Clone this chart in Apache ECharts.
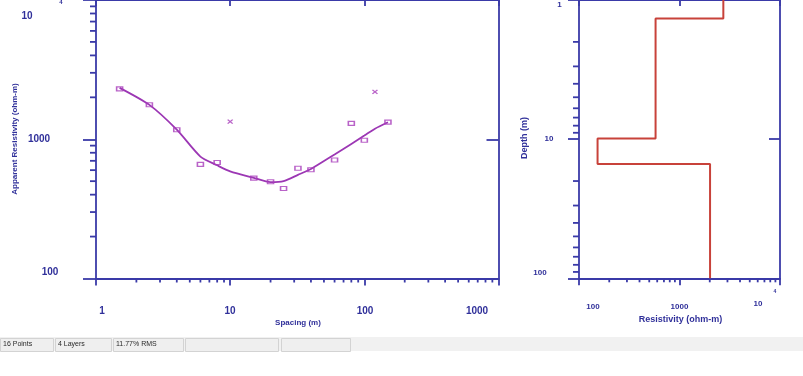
<!DOCTYPE html>
<html>
<head>
<meta charset="utf-8">
<script src="https://cdn.jsdelivr.net/npm/echarts@6/dist/echarts.min.js"></script>
<style>
  html, body { margin: 0; padding: 0; background: #ffffff; }
  #chart { width: 803px; height: 376px; }
</style>
</head>
<body>
<div id="chart"></div>
<script>
// Sounding curve: electrode spacing (m) and apparent resistivity (ohm-m)
const spacing      = [1.5, 2.5, 4, 6, 8, 10, 15, 20, 25, 32, 40, 60, 80, 100, 120, 150];
const observedRho  = [2300, 1770, 1170, 660, 680, 1340, 526, 495, 443, 619, 603, 709, 1300, 984, 2190, 1328];
const maskedPoint  = [0, 0, 0, 0, 0, 1, 0, 0, 0, 0, 0, 0, 0, 0, 1, 0];
const calculatedRho = [2340, 1765, 1172, 751, 650, 588, 528, 492, 500, 555, 612, 778, 926, 1062, 1191, 1325];

// Layered model: resistivity of each layer and depth of each interface
const layerRes   = [2730, 578, 153, 2014];
const layerDepth = [1.36, 9.9, 15.1];

// Tick labels
const spacingTicks   = ['1', '10', '100', '1000'];
const appResTicks    = ['100', '1000', '10'];
const depthTicks     = ['1', '10', '100'];
const resistTicks    = ['100', '1000', '10'];
const exponentLabel  = '4';

// Status bar fields
const statusFields = ['16 Points', '4 Layers', '11.77% RMS', '', ''];

// Minor tick positions on the log axes
const minorSpacing = [2,3,4,5,6,7,8,9, 20,30,40,50,60,70,80,90, 200,300,400,500,600,700,800,900];
const minorAppRes  = [200,300,400,500,600,700,800,900, 2000,3000,4000,5000,6000,7000,8000,9000];
const minorDepth   = [2,3,4,5,6,7,8,9, 20,30,40,50,60,70,80,90];
const minorResist  = [200,300,400,500,600,700,800,900, 2000,3000,4000,5000,6000,7000,8000,9000];

const AXIS = '#3a3aa8';
const TEXT = '#30309a';
const CURVE = '#9c37b4';
const MARK = '#a83cba';
const MODEL = '#c8423a';

// Build the stepped model profile from layers and interfaces
const modelPts = [];
let layerTop = 1;
layerRes.forEach((r, i) => {
  const layerBottom = i < layerDepth.length ? layerDepth[i] : 100;
  modelPts.push([r, layerTop], [r, layerBottom]);
  layerTop = layerBottom;
});

function minorTickSeries(xIdx, yIdx, data, dir, len) {
  return {
    type: 'custom',
    xAxisIndex: xIdx,
    yAxisIndex: yIdx,
    silent: true,
    clip: false,
    data: data,
    renderItem: function (params, api) {
      const p = api.coord([api.value(0), api.value(1)]);
      const shape = dir === 'down'
        ? { x1: p[0], y1: p[1], x2: p[0], y2: p[1] + len }
        : { x1: p[0] - len, y1: p[1], x2: p[0], y2: p[1] };
      return { type: 'line', shape: shape, style: { stroke: AXIS, lineWidth: 1.8 } };
    }
  };
}

function logAxis(grid, min, max, pos, tick, extra) {
  return Object.assign({
    type: 'log', logBase: 10, gridIndex: grid, min: min, max: max, position: pos,
    axisLine: { show: true, onZero: false, lineStyle: { color: AXIS, width: 1.8 } },
    axisTick: Object.assign({ show: true, lineStyle: { color: AXIS, width: 1.8 } }, tick),
    axisLabel: { show: false },
    splitLine: { show: false },
    minorTick: { show: false }
  }, extra || {});
}

function label(text, x, y, size, opts) {
  return Object.assign({
    type: 'text', x: x, y: y, silent: true,
    style: {
      text: text, fill: TEXT,
      font: 'bold ' + size + 'px "Liberation Sans", Arial, sans-serif',
      align: 'center', verticalAlign: 'middle',
      textAlign: 'center', textVerticalAlign: 'middle'
    }
  }, opts || {});
}

const graphics = [
  // left chart: vertical axis labels
  label('10', 27, 16, 10), label(exponentLabel, 61, 2, 6),
  label(appResTicks[1], 39, 139, 10), label(appResTicks[0], 50, 272, 10),
  // left chart: horizontal axis labels
  label(spacingTicks[0], 102, 311, 10), label(spacingTicks[1], 230, 311, 10),
  label(spacingTicks[2], 365, 311, 10), label(spacingTicks[3], 477, 311, 10),
  label('Spacing (m)', 298, 323, 8),
  label('Apparent Resistivity (ohm-m)', 15, 139, 8, { rotation: Math.PI / 2 }),
  // right chart labels
  label(depthTicks[0], 559.5, 5, 8), label(depthTicks[1], 549, 139, 8), label(depthTicks[2], 540, 273, 8),
  label(resistTicks[0], 593, 306.5, 8), label(resistTicks[1], 679.5, 306.5, 8),
  label(resistTicks[2], 758, 304, 8), label(exponentLabel, 775, 291.5, 5),
  label('Resistivity (ohm-m)', 680.5, 320, 9),
  label('Depth (m)', 525, 138, 9, { rotation: Math.PI / 2 }),
  // status bar
  { type: 'rect', shape: { x: 0, y: 337, width: 803, height: 14 }, style: { fill: '#f1f1f1' }, silent: true }
];

const panelEdges = [[0, 53], [55, 111], [113, 183], [185, 278], [281, 350]];
panelEdges.forEach((e, i) => {
  graphics.push({
    type: 'rect', silent: true,
    shape: { x: e[0] + 0.5, y: 338.5, width: e[1] - e[0], height: 13 },
    style: { fill: '#efefef', stroke: '#d3d3d3', lineWidth: 1 }
  });
  if (statusFields[i]) {
    graphics.push({
      type: 'text', x: e[0] + 3, y: 344.5, silent: true,
      style: {
        text: statusFields[i], fill: '#2a2a2a',
        font: '7px "Liberation Sans", Arial, sans-serif',
        align: 'left', verticalAlign: 'middle', textAlign: 'left', textVerticalAlign: 'middle'
      }
    });
  }
});

const chart = echarts.init(document.getElementById('chart'), null, { renderer: 'canvas' });

chart.setOption({
  animation: false,
  backgroundColor: '#ffffff',
  grid: [
    { left: 96, top: -3, width: 402.5, height: 281.5, containLabel: false },
    { left: 579, top: -2.9, width: 201, height: 281.2, containLabel: false }
  ],
  xAxis: [
    logAxis(0, 1, 1000, 'bottom', { length: 7 }),
    logAxis(0, 1, 1000, 'top', { inside: true, length: 6 }),
    logAxis(1, 100, 10000, 'bottom', { length: 7 }),
    logAxis(1, 100, 10000, 'top', { inside: true, length: 6 })
  ],
  yAxis: [
    logAxis(0, 100, 10000, 'left', { length: 13 }),
    logAxis(0, 100, 10000, 'right', { inside: true, length: 12 }),
    logAxis(1, 1, 100, 'left', { length: 11 }, { inverse: true }),
    logAxis(1, 1, 100, 'right', { inside: true, length: 11 }, { inverse: true })
  ],
  graphic: graphics,
  series: [
    {
      name: 'Calculated', type: 'line', xAxisIndex: 0, yAxisIndex: 0,
      data: spacing.map((s, i) => [s, calculatedRho[i]]),
      showSymbol: false, symbol: 'none', smooth: 0.25,
      lineStyle: { color: CURVE, width: 1.8 }, z: 3
    },
    {
      name: 'Observed', type: 'scatter', xAxisIndex: 0, yAxisIndex: 0,
      data: spacing.map((s, i) => [s, observedRho[i]]).filter((d, i) => !maskedPoint[i]),
      symbol: 'rect', symbolSize: [6, 4],
      itemStyle: { color: 'rgba(255,255,255,0)', borderColor: MARK, borderWidth: 1.3 }, z: 4
    },
    {
      name: 'Masked', type: 'scatter', xAxisIndex: 0, yAxisIndex: 0,
      data: spacing.map((s, i) => [s, observedRho[i]]).filter((d, i) => maskedPoint[i]),
      symbol: 'path://M0 0L10 8M10 0L0 8', symbolSize: [5, 4],
      itemStyle: { color: 'none', borderColor: MARK, borderWidth: 1.3 }, z: 4
    },
    {
      name: 'Model', type: 'line', xAxisIndex: 2, yAxisIndex: 2,
      data: modelPts, showSymbol: false, symbol: 'none',
      lineStyle: { color: MODEL, width: 2 }, z: 3
    },
    minorTickSeries(0, 0, minorSpacing.map(v => [v, 100]), 'down', 4),
    minorTickSeries(0, 0, minorAppRes.map(v => [1, v]), 'left', 6),
    minorTickSeries(2, 2, minorResist.map(v => [v, 100]), 'down', 4),
    minorTickSeries(2, 2, minorDepth.map(v => [100, v]), 'left', 6)
  ]
});
</script>
</body>
</html>
